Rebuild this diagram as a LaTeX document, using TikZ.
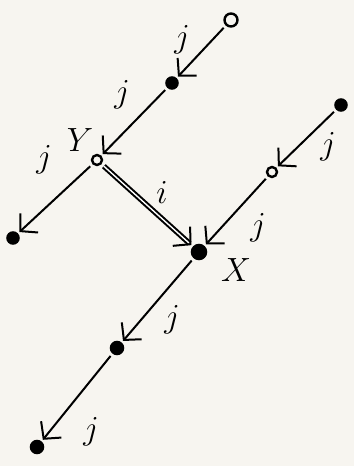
\documentclass[tikz,border=0pt]{standalone}
\usepackage{graphicx}
\usetikzlibrary{arrows.meta}
\definecolor{paper}{RGB}{247,245,240}
\newcommand{\biglab}[1]{\scalebox{1.35}{\Huge$#1$}}
\begin{document}
\begin{tikzpicture}[x=1pt,y=-1pt,
  dotf/.style={circle,fill=black,draw=black,line width=1.5pt,minimum size=12pt,inner sep=0pt},
  doth/.style={circle,fill=paper,draw=black,line width=2.4pt,minimum size=10pt,inner sep=0pt},
  edge/.style={line width=2pt,-{Straight Barb[length=12pt,width=26pt,line width=2pt]},shorten >=2pt,shorten <=3pt},
  lab/.style={inner sep=0pt}]
\fill[paper] (0,0) rectangle (354,466);
\useasboundingbox (0,0) rectangle (354,466);
\node[doth,minimum size=13pt] (a) at (231,20) {};
\node[dotf,minimum size=12pt] (b) at (172,83) {};
\node[doth,minimum size=10pt] (y) at (97,160) {};
\node[dotf,minimum size=12pt] (l) at (13,238) {};
\node[dotf,minimum size=12pt] (r1) at (341,105) {};
\node[doth,minimum size=10pt] (r2) at (272,172) {};
\node[dotf,minimum size=15pt] (x) at (199,252) {};
\node[dotf,minimum size=13pt] (m) at (117,348) {};
\node[dotf,minimum size=13pt] (bt) at (37,447) {};
\draw[edge] (a) -- (b);
\draw[edge] (b) -- (y);
\draw[edge] (y) -- (l);
\draw[edge,double,double distance=1.4pt] (y) -- (x);
\draw[edge] (r1) -- (r2);
\draw[edge] (r2) -- (x);
\draw[edge] (x) -- (m);
\draw[edge] (m) -- (bt);
\node[lab] (lab1) at (182,40) {\biglab{j}};
\node[lab] (lab2) at (122,95) {\biglab{j}};
\node[lab] (laby) at (80,140) {\biglab{Y}};
\node[lab] (lab3) at (44,160) {\biglab{j}};
\node[lab] (labi) at (162,192) {\biglab{i}};
\node[lab] (lab4) at (328,147) {\biglab{j}};
\node[lab] (lab5) at (258,228) {\biglab{j}};
\node[lab] (labx) at (236,270) {\biglab{X}};
\node[lab] (lab6) at (172,320) {\biglab{j}};
\node[lab] (lab7) at (91,432) {\biglab{j}};
\end{tikzpicture}
\end{document}
